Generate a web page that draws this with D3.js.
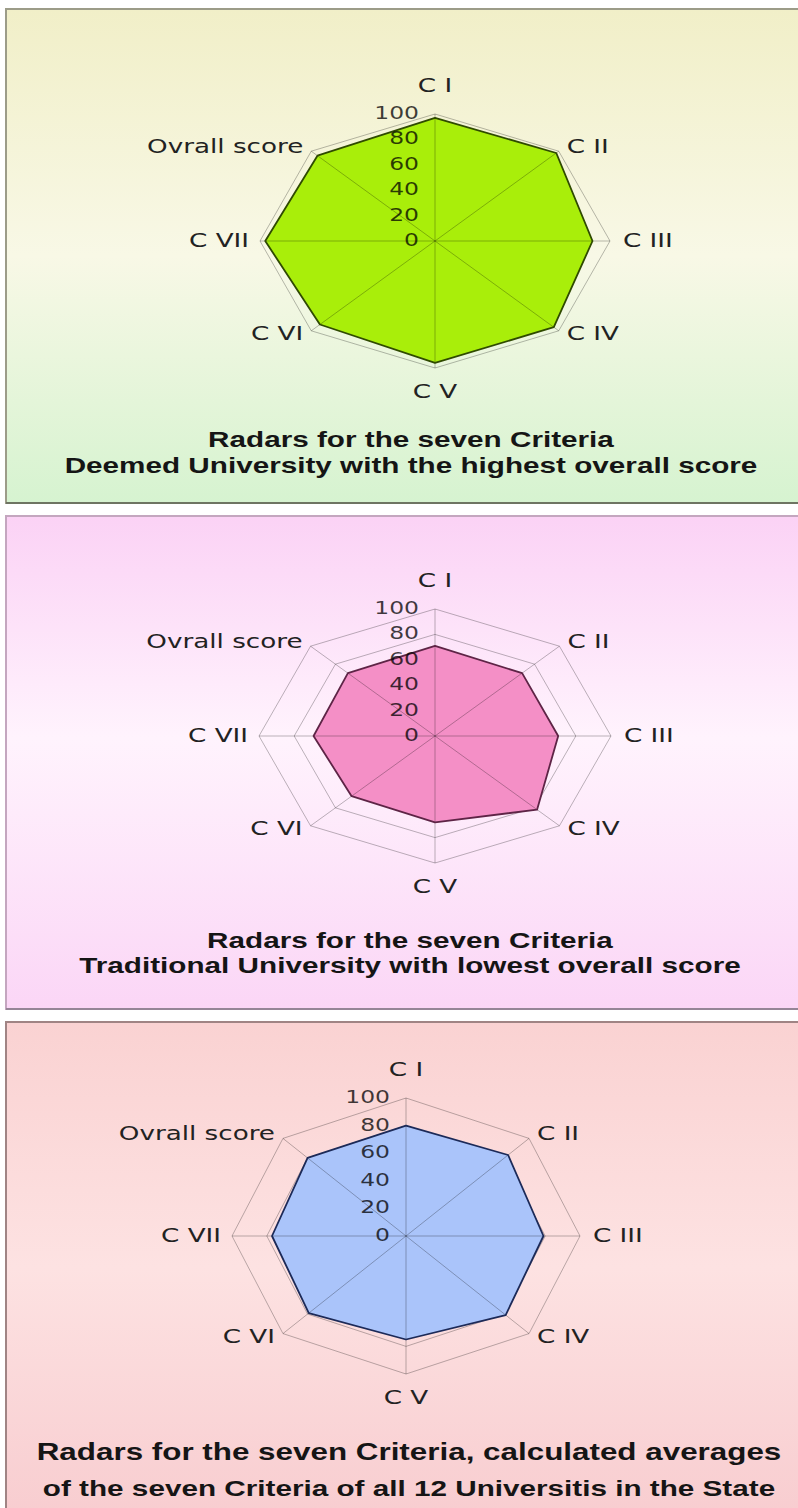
<!DOCTYPE html>
<html><head><meta charset="utf-8">
<script src="https://cdn.jsdelivr.net/npm/d3@7"></script>
<style>html,body{margin:0;padding:0;background:#fff;} svg{display:block}</style>
</head><body><svg id="c" width="798" height="1508"></svg>
<script>
// ---- data ----
const categories = ["C I", "C II", "C III", "C IV", "C V", "C VI", "C VII", "Ovrall score"];
const deemedScores = [97, 98, 90, 96, 96, 93, 97, 95];
const traditionalScores = [71, 70, 70, 82, 68, 67, 69, 70];
const averageScores = [80, 83, 79, 81, 75, 79, 77, 80];
const radialTicks = [0, 20, 40, 60, 80, 100];
const titleDeemed = ["Radars for the seven Criteria", "Deemed University with the highest overall score"];
const titleTraditional = ["Radars for the seven Criteria", "Traditional University with lowest overall score"];
const titleAverage = ["Radars for the seven Criteria, calculated averages", "of the seven Criteria of all 12 Universitis in the State"];

const svg = d3.select("#c");
const defs = svg.append("defs");
function grad(id, stops) {
  const lg = defs.append("linearGradient").attr("id", id).attr("x1", 0).attr("y1", 0).attr("x2", 0).attr("y2", 1);
  stops.forEach(s => lg.append("stop").attr("offset", s[0]).attr("stop-color", s[1]));
}
grad("g1", [[0, "#f1efc8"], [0.5, "#f8f8e6"], [1, "#d6f3d0"]]);
grad("g2", [[0, "#fbd2f5"], [0.45, "#fff3fd"], [1, "#fbd6f6"]]);
grad("g3", [[0, "#fad2d2"], [0.5, "#fde2e2"], [1, "#f8cdd0"]]);

const panels = [
  { y0: 9, h: 494, grad: "g1", border: "#9c9c88", shadow: "#6e7462", cx: 435, cy: 241, Rx: 175, Ry: 127,
    values: deemedScores, fill: "#a9ee0a", stroke: "#2f4a00", titles: titleDeemed, tY: [447, 473], tX: 411,
    tSize: [22.5, 22.5], tSx: [1.32, 1.32] },
  { y0: 516, h: 493, grad: "g2", border: "#c4a6bf", shadow: "#958596", cx: 435, cy: 736, Rx: 176, Ry: 127,
    values: traditionalScores, fill: "#f48fc6", stroke: "#5e2446", titles: titleTraditional, tY: [948, 973], tX: 410,
    tSize: [22.5, 22.5], tSx: [1.32, 1.32] },
  { y0: 1022, h: 492, grad: "g3", border: "#a08484", shadow: "#8a7070", cx: 406, cy: 1236, Rx: 174, Ry: 138,
    values: averageScores, fill: "#aac4fa", stroke: "#1c2a58", titles: titleAverage, tY: [1460, 1496], tX: 409,
    tSize: [23, 22.5], tSx: [1.365, 1.32] }
];

const SX = 1.31;
function txt(g, x, y, s, opt) {
  return g.append("text")
    .attr("transform", `translate(${x},${y}) scale(${opt.sx || SX},1)`)
    .attr("text-anchor", opt.anchor || "middle")
    .attr("font-family", opt.family || "'DejaVu Sans', sans-serif")
    .attr("font-size", opt.size)
    .attr("font-weight", opt.weight || "normal")
    .attr("fill", opt.fill || "#222")
    .attr("fill-opacity", opt.op == null ? 1 : opt.op)
    .text(s);
}

panels.forEach(p => {
  const g = svg.append("g");
  g.append("rect").attr("x", 6).attr("y", p.y0).attr("width", 800).attr("height", p.h)
    .attr("fill", `url(#${p.grad})`).attr("stroke", p.border).attr("stroke-width", 2);
  g.append("line").attr("x1", 6).attr("x2", 798).attr("y1", p.y0 + p.h).attr("y2", p.y0 + p.h)
    .attr("stroke", p.shadow).attr("stroke-width", 2);

  const n = categories.length;
  const rX = d3.scaleLinear().domain([0, 100]).range([0, p.Rx]);
  const rY = d3.scaleLinear().domain([0, 100]).range([0, p.Ry]);
  const ang = d3.scaleLinear().domain([0, n]).range([0, 2 * Math.PI]);
  const px = (v, i) => p.cx + rX(v) * Math.sin(ang(i));
  const py = (v, i) => p.cy - rY(v) * Math.cos(ang(i));
  const poly = d3.line().x(d => px(d.v, d.i)).y(d => py(d.v, d.i)).curve(d3.curveLinearClosed);

  // rings
  radialTicks.filter(t => t > 0).forEach(t => {
    g.append("path").attr("d", poly(categories.map((c, i) => ({ v: t, i }))))
      .attr("fill", "none").attr("stroke", "#000").attr("stroke-opacity", 0.27).attr("stroke-width", 1);
  });
  // series fill
  const pts = p.values.map((v, i) => ({ v, i }));
  g.append("path").attr("d", poly(pts)).attr("fill", p.fill).attr("stroke", "none");
  // spokes
  categories.forEach((c, i) => {
    g.append("line").attr("x1", p.cx).attr("y1", p.cy).attr("x2", px(100, i)).attr("y2", py(100, i))
      .attr("stroke", "#000").attr("stroke-opacity", 0.27).attr("stroke-width", 1);
  });
  // series outline
  g.append("path").attr("d", poly(pts)).attr("fill", "none").attr("stroke", p.stroke)
    .attr("stroke-width", 1.8).attr("stroke-linejoin", "round");

  // tick labels
  radialTicks.forEach(t => {
    txt(g, p.cx - 16, p.cy - rY(t) + 5, String(t), { size: 17.5, anchor: "end", fill: "#000", op: 0.75, sx: 1.34 });
  });

  // category labels
  categories.forEach((c, i) => {
    const vx = px(100, i), vy = py(100, i);
    let x = vx, y = vy, anchor = "middle";
    if (i === 0) { y = vy - 22; }
    else if (i === n / 2) { y = vy + 30; }
    else if (i < n / 2) {
      anchor = "start"; x = vx + (i === 2 ? 13 : 8); y = vy + (i === 1 ? 2 : i === 2 ? 6 : 9);
    } else {
      const j = n - i; // mirror index
      anchor = "end"; x = vx - (j === 2 ? 11 : 8); y = vy + (j === 1 ? 2 : j === 2 ? 6 : 9);
    }
    txt(g, x, y, c, { size: 20, anchor, fill: "#222" });
  });

  // titles
  p.titles.forEach((t, k) => {
    txt(g, p.tX, p.tY[k], t, { size: p.tSize[k], weight: "bold", family: "'Liberation Sans', Arial, sans-serif",
      fill: "#151515", sx: p.tSx[k] });
  });
});
</script>
</body></html>
